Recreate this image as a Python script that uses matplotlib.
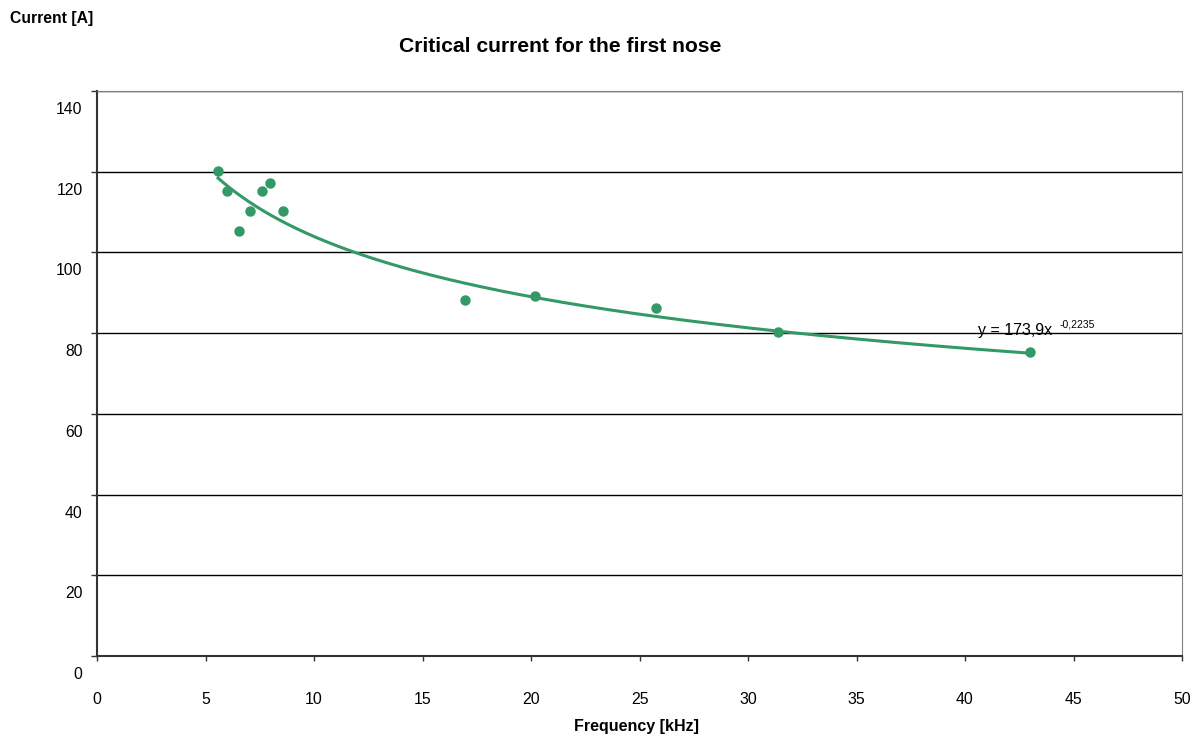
import numpy as np
import matplotlib
matplotlib.use("Agg")
from matplotlib import pyplot as plt
from matplotlib import transforms

plt.rcParams['font.family'] = ['Liberation Sans', 'DejaVu Sans']

# measured points, frequency [kHz] vs critical current [A]
freq_khz = [5.58, 5.99, 6.54, 7.05, 7.60, 7.97, 8.57, 16.96, 20.18, 25.76, 31.38, 43.0]
current_a = [120.2, 115.2, 105.3, 110.3, 115.2, 117.2, 110.3, 88.2, 89.2, 86.2, 80.3, 75.3]

# power trend y = a * x^b
fit_a = 173.9
fit_b = -0.2235

x_ticks = [0, 5, 10, 15, 20, 25, 30, 35, 40, 45, 50]
y_ticks = [0, 20, 40, 60, 80, 100, 120, 140]

green = '#339966'

fig = plt.figure(figsize=(12.03, 7.36), dpi=100)
ax = fig.add_axes([97/1203, 80/736, 1085/1203, 565/736])

xs = np.linspace(min(freq_khz), max(freq_khz), 300)
ax.plot(xs, fit_a * xs ** fit_b, color=green, lw=2.2, zorder=3)
ax.plot(freq_khz, current_a, 'o', color=green, ms=6.5, zorder=4)

ax.set_xlim(0, 50)
ax.set_ylim(0, 140)
ax.set_xticks(x_ticks)
ax.set_yticks(y_ticks)
ax.set_xticklabels([str(t) for t in x_ticks], fontsize=11.4)
ax.set_yticklabels([str(t) for t in y_ticks], fontsize=11.3)
ax.tick_params(axis='x', direction='out', length=3.5, width=1, pad=22.3, color='#333333')
ax.tick_params(axis='y', direction='out', length=4.3, width=1, pad=6, color='#333333')

# excel puts the y labels a bit below their gridline
off = transforms.ScaledTranslation(0, -17/100, fig.dpi_scale_trans)
for lab in ax.get_yticklabels():
    lab.set_transform(lab.get_transform() + off)

ax.yaxis.grid(True, color='black', lw=1)
ax.set_axisbelow(True)
for s in ['top', 'right']:
    ax.spines[s].set_color('#808080')
for s in ['left', 'bottom']:
    ax.spines[s].set_color('#333333')
    ax.spines[s].set_linewidth(1.5)

ax.text(40.6, 79.6, 'y = 173,9x', fontsize=11.5, ha='left', va='baseline')
ax.text(44.35, 81.3, '-0,2235', fontsize=7.5, ha='left', va='baseline')

fig.text(560/1203, 1 - 46/736, 'Critical current for the first nose', fontsize=15.2,
         fontweight='bold', ha='center', va='center')
fig.text(10/1203, 1 - 19/736, 'Current [A]', fontsize=11.3, fontweight='bold',
         ha='left', va='center')
fig.text(637/1203, 1 - 726/736, 'Frequency [kHz]', fontsize=11.5, fontweight='bold',
         ha='center', va='center')

plt.savefig('out.png', dpi=100)
